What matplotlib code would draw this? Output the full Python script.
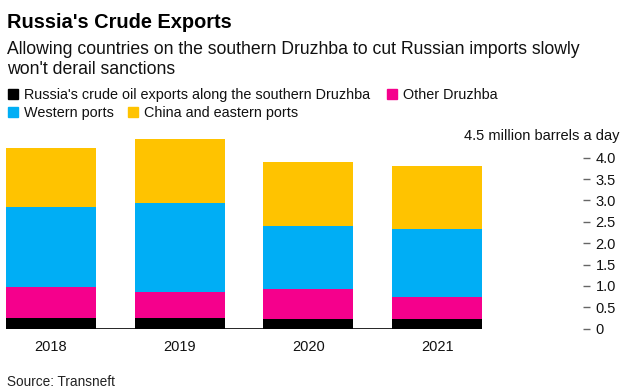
import matplotlib
matplotlib.use("Agg")
import matplotlib.pyplot as plt
from matplotlib.patches import Rectangle
import numpy as np

plt.rcParams['font.family'] = ['Liberation Sans', 'DejaVu Sans']

years = ['2018', '2019', '2020', '2021']
southern_druzhba = [0.26, 0.26, 0.23, 0.23]
other_druzhba = [0.72, 0.59, 0.69, 0.50]
western_ports = [1.87, 2.10, 1.49, 1.60]
china_eastern = [1.38, 1.48, 1.48, 1.48]

series_names = ["Russia's crude oil exports along the southern Druzhba",
                'Other Druzhba', 'Western ports', 'China and eastern ports']
series_values = [southern_druzhba, other_druzhba, western_ports, china_eastern]
colors = ['#000000', '#F5008C', '#00AEF5', '#FFC300']
yticks = [0, 0.5, 1.0, 1.5, 2.0, 2.5, 3.0, 3.5, 4.0]
ytick_labels = ['0', '0.5', '1.0', '1.5', '2.0', '2.5', '3.0', '3.5', '4.0']

W, H = 625, 392
fig = plt.figure(figsize=(W / 100, H / 100), dpi=100)

# axes in pixel terms
left, right, bottom, top = 6, 583, 328.7, 136.3
ax = fig.add_axes([left / W, (H - bottom) / H, (right - left) / W, (bottom - top) / H])

x = np.arange(len(years))
width = 0.7
base = np.zeros(len(years))
for vals, c in zip(series_values, colors):
    ax.bar(x, vals, width, bottom=base, color=c, edgecolor='none', zorder=2)
    base += np.array(vals)

ax.set_xlim(-0.35, -0.35 + (right - left) / 128.7)
ax.set_ylim(0, 4.5)
ax.hlines(0, -0.35, 3.35, color='black', lw=1.2, zorder=3)

for s in ax.spines.values():
    s.set_visible(False)
ax.yaxis.tick_right()
ax.set_yticks(yticks)
ax.set_yticklabels(ytick_labels)
ax.tick_params(axis='y', length=5, width=1, color='#666666', pad=4,
               labelsize=10.5, labelcolor='#111111')
ax.set_xticks(x)
ax.set_xticklabels(years)
ax.tick_params(axis='x', length=0, pad=8, labelsize=10.5, labelcolor='#111111')

fig.text(620 / W, 1 - 136 / H, '4.5 million barrels a day', ha='right', va='center',
         fontsize=10.5, color='#111111')

# titles
fig.text(7 / W, 1 - 28.5 / H, "Russia's Crude Exports", fontsize=14.4, fontweight='bold',
         ha='left', va='baseline')
fig.text(7 / W, 1 - 54.5 / H,
         'Allowing countries on the southern Druzhba to cut Russian imports slowly',
         fontsize=12.7, ha='left', va='baseline', color='#111111')
fig.text(7 / W, 1 - 74.5 / H, "won't derail sanctions",
         fontsize=12.7, ha='left', va='baseline', color='#111111')

# legend, flowing over two rows
legend_pos = [(8, 99), (387, 99), (8, 117), (128, 117)]
for (px, py), name, c in zip(legend_pos, series_names, colors):
    fig.patches.append(Rectangle((px / W, (H - py) / H), 10 / W, 10 / H,
                                 transform=fig.transFigure, color=c, figure=fig))
    fig.text((px + 16) / W, (H - py) / H, name, fontsize=10.4, ha='left', va='baseline',
             color='#111111')

fig.text(7 / W, 1 - 386.5 / H, 'Source: Transneft', fontsize=9.8, ha='left',
         va='baseline', color='#222222')

fig.savefig('out.png', dpi=100)
